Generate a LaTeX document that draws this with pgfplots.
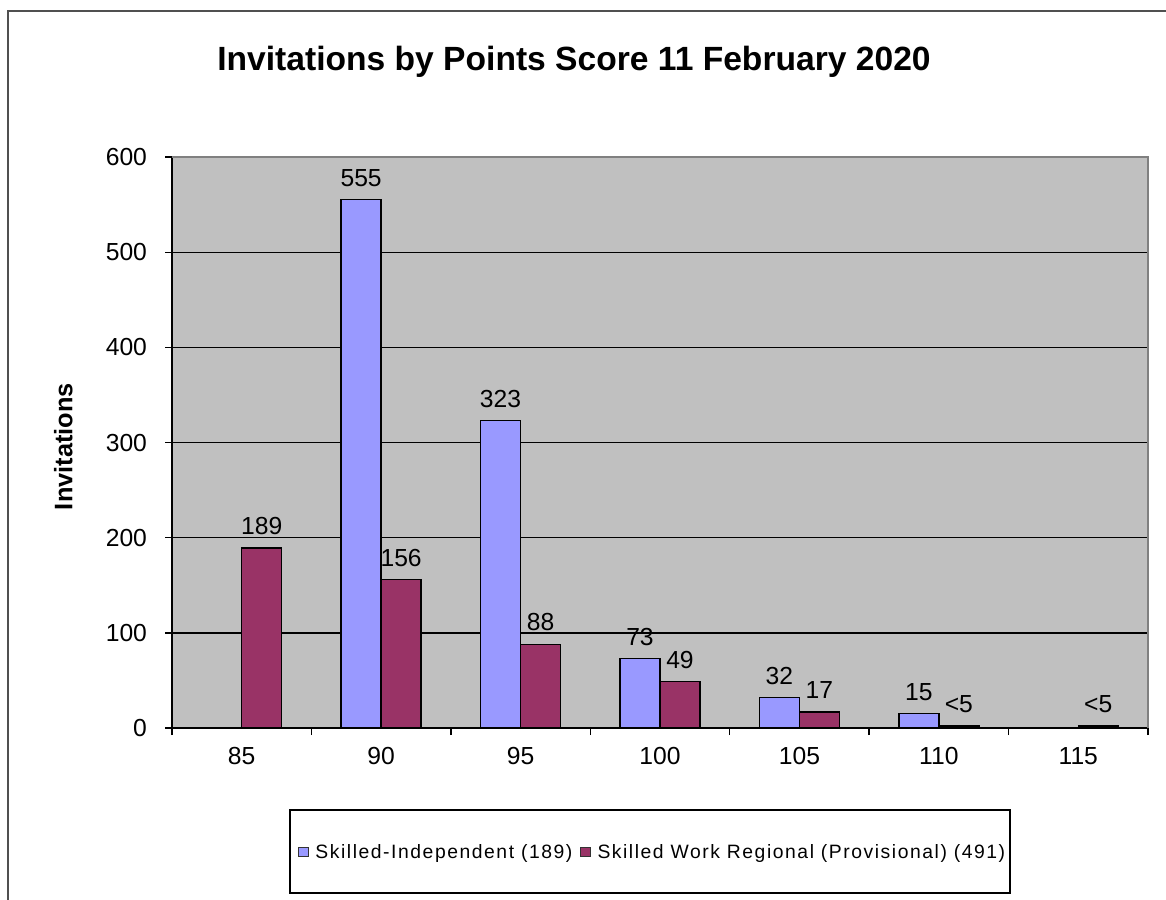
\documentclass[border=0pt]{standalone}
\usepackage{fontspec}
\setmainfont{Liberation Sans}
\usepackage{pgfplots}
\pgfplotsset{compat=1.18}
\definecolor{sibl}{HTML}{9999FF}
\definecolor{swrr}{HTML}{993366}
\definecolor{plotbg}{HTML}{C0C0C0}
\definecolor{framegray}{HTML}{505050}
\begin{document}
\begin{tikzpicture}
\useasboundingbox (0pt,0pt) rectangle (874.5pt,-674.25pt);
\draw[framegray, line width=1.5pt] (6pt,-8pt) rectangle (900pt,-700pt);
\node[font=\fontsize{25.2}{29}\selectfont\bfseries] at (430.5pt,-46.5pt) {Invitations by Points Score 11 February 2020};
\node[font=\fontsize{19}{22}\selectfont\bfseries, rotate=90] at (47.5pt,-335pt) {Invitations};
\begin{axis}[
  at={(129pt,-546pt)}, anchor=south west,
  scale only axis, width=732pt, height=428.25pt,
  xmin=-0.5, xmax=6.5, ymin=0, ymax=600,
  ybar=0pt, bar width=30pt,
  axis background/.style={fill=plotbg},
  axis x line=bottom, axis y line=left,
  axis line style={-, black, line width=1pt},
  tick align=outside,
  major tick length=5.25pt,
  tick style={black, line width=1pt},
  xtick={-0.5,0.5,...,6.5},
  x tick label as interval,
  xticklabels={85,90,95,100,105,110,115},
  ytick={0,100,...,600},
  extra y ticks={100,200,300,400,500},
  extra y tick labels={},
  extra y tick style={grid=major, major grid style={black, line width=1pt}, major tick length=0pt},
  /pgf/number format/assume math mode=true,
  ticklabel style={font=\fontsize{18.5}{20}\selectfont},
  xticklabel style={yshift=-6pt},
  yticklabel style={xshift=-10pt},
  clip=false,
  legend columns=2,
  legend style={draw=none, fill=none, at={(0.493,-0.2172)}, anchor=center,
    font=\fontsize{14.5}{16}\selectfont\addfontfeature{LetterSpace=8},
    /tikz/every even column/.append style={column sep=4pt},
    /tikz/every odd column/.append style={column sep=3pt}},
  nodes near coords style={font=\fontsize{18.5}{20}\selectfont, anchor=south, yshift=6pt},
]
\addplot[fill=sibl, draw=black, line width=1pt, nodes near coords, point meta=explicit symbolic,
  legend image code/.code={\draw[fill=sibl, draw=black!80, line width=0.6pt] (0pt,-3.6pt) rectangle (7.2pt,3.6pt);}]
  table[x=x, y=y, meta=lab] {
x y lab
1 555 555
2 323 323
3 73 73
4 32 32
5 15 15
};
\addlegendentry{Skilled-Independent (189)}
\addplot[fill=swrr, draw=black, line width=1pt, nodes near coords, point meta=explicit symbolic,
  legend image code/.code={\draw[fill=swrr, draw=black!80, line width=0.6pt] (0pt,-3.6pt) rectangle (7.2pt,3.6pt);}]
  table[x=x, y=y, meta=lab] {
x y lab
0 189 189
1 156 156
2 88 88
3 49 49
4 17 17
5 2 <5
6 2 <5
};
\addlegendentry{Skilled Work Regional (Provisional) (491)}
\draw[gray, line width=0.8pt] (rel axis cs:0,1) -- (rel axis cs:1,1) -- (rel axis cs:1,0);
\end{axis}
\draw[black, line width=1pt] (217.5pt,-607.5pt) rectangle (757.5pt,-669.75pt);
\end{tikzpicture}
\end{document}
